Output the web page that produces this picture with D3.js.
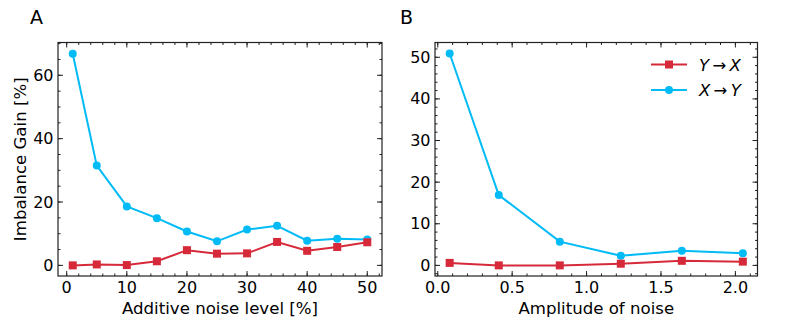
<!DOCTYPE html>
<html>
<head>
<meta charset="utf-8">
<script src="https://cdn.jsdelivr.net/npm/d3@7"></script>
<style>
body { margin: 0; background: #fff; }
text { font-family: "DejaVu Sans", sans-serif; fill: #000; }
</style>
</head>
<body>
<svg id="main" width="807" height="325"></svg>
<script>
// panel A data
const noiseLevel = [1, 5, 10, 15, 20, 25, 30, 35, 40, 45, 50];
const aXtoY = [66.8, 31.5, 18.6, 14.9, 10.7, 7.6, 11.3, 12.5, 7.8, 8.4, 8.2];
const aYtoX = [0, 0.3, 0.1, 1.3, 4.8, 3.7, 3.8, 7.4, 4.6, 5.8, 7.3];
// panel B data
const amplitude = [0.08, 0.41, 0.82, 1.23, 1.64, 2.05];
const bXtoY = [50.9, 16.9, 5.7, 2.3, 3.5, 2.9];
const bYtoX = [0.6, 0, 0, 0.4, 1.1, 0.9];

const red = "#d62a3a";
const blue = "#00bbf5";

function panel(svg, opt) {
    const g = svg.append('g');
    const x = d3.scaleLinear().domain(opt.xdom).range([opt.left, opt.right]);
    const y = d3.scaleLinear().domain(opt.ydom).range([opt.bottom, opt.top]);

    // ticks, inward on all sides
    const xt = d3.range(opt.xmaj[0], opt.xmaj[1] + 1e-9, opt.xmaj[2]);
    const yt = d3.range(opt.ymaj[0], opt.ymaj[1] + 1e-9, opt.ymaj[2]);
    const xm = d3.range(Math.ceil(opt.xdom[0] / opt.xmin) * opt.xmin, opt.xdom[1], opt.xmin)
        .filter(v => v >= opt.xdom[0] && v <= opt.xdom[1]);
    const ym = d3.range(Math.ceil(opt.ydom[0] / opt.ymin) * opt.ymin, opt.ydom[1], opt.ymin)
        .filter(v => v >= opt.ydom[0] && v <= opt.ydom[1]);

    const tk = (x1, y1, x2, y2) => g.append('line')
        .attr('x1', x1).attr('y1', y1).attr('x2', x2).attr('y2', y2)
        .attr('stroke', '#222').attr('stroke-width', 1);

    xm.forEach(v => { tk(x(v), opt.bottom, x(v), opt.bottom - 2.5); tk(x(v), opt.top, x(v), opt.top + 2.5); });
    ym.forEach(v => { tk(opt.left, y(v), opt.left + 2.5, y(v)); tk(opt.right, y(v), opt.right - 2.5, y(v)); });
    xt.forEach(v => { tk(x(v), opt.bottom, x(v), opt.bottom - 5); tk(x(v), opt.top, x(v), opt.top + 5); });
    yt.forEach(v => { tk(opt.left, y(v), opt.left + 5, y(v)); tk(opt.right, y(v), opt.right - 5, y(v)); });

    g.selectAll('.xl').data(xt).enter().append('text')
        .attr('x', d => x(d)).attr('y', opt.bottom + 17)
        .attr('text-anchor', 'middle').attr('font-size', 16)
        .text(d => opt.xfmt(d));
    g.selectAll('.yl').data(yt).enter().append('text')
        .attr('x', opt.left - 4.5).attr('y', d => y(d) + 5.5)
        .attr('text-anchor', 'end').attr('font-size', 16)
        .text(d => d);

    g.append('rect')
        .attr('x', opt.left).attr('y', opt.top)
        .attr('width', opt.right - opt.left).attr('height', opt.bottom - opt.top)
        .attr('fill', 'none').attr('stroke', '#222').attr('stroke-width', 1.2);

    g.append('text').attr('x', (opt.left + opt.right) / 2).attr('y', opt.bottom + 38)
        .attr('text-anchor', 'middle').attr('font-size', 16.6).text(opt.xlabel);
    if (opt.ylabel) {
        g.append('text')
            .attr('transform', `translate(26,${(opt.top + opt.bottom) / 2}) rotate(-90)`)
            .attr('text-anchor', 'middle').attr('font-size', 16.6).text(opt.ylabel);
    }
    g.append('text').attr('x', opt.tx).attr('y', 24).attr('font-size', 19).text(opt.title);

    const line = d3.line().x(d => x(d[0])).y(d => y(d[1]));
    const series = [
        { xs: opt.xs, ys: opt.blue, color: blue, mk: 'circle' },
        { xs: opt.xs, ys: opt.red, color: red, mk: 'square' }
    ];
    series.forEach(s => {
        const pts = s.xs.map((v, i) => [v, s.ys[i]]);
        g.append('path').attr('d', line(pts)).attr('fill', 'none')
            .attr('stroke', s.color).attr('stroke-width', 2);
        pts.forEach(p => {
            if (s.mk == 'circle') {
                g.append('circle').attr('cx', x(p[0])).attr('cy', y(p[1])).attr('r', 4)
                    .attr('fill', s.color);
            } else {
                g.append('rect').attr('x', x(p[0]) - 4).attr('y', y(p[1]) - 4)
                    .attr('width', 8).attr('height', 8).attr('fill', s.color);
            }
        });
    });
    return g;
}

const svg = d3.select("#main");

panel(svg, {
    left: 58, right: 382, top: 42.5, bottom: 276,
    xdom: [-1.45, 52.45], ydom: [-3.35, 70.35],
    xmaj: [0, 50, 10], ymaj: [0, 60, 20], xmin: 2, ymin: 5,
    xfmt: d => d, xlabel: "Additive noise level [%]", ylabel: "Imbalance Gain [%]",
    title: "A", tx: 30,
    xs: noiseLevel, blue: aXtoY, red: aYtoX
});

const pb = panel(svg, {
    left: 435, right: 757.5, top: 42.5, bottom: 276,
    xdom: [-0.0185, 2.1485], ydom: [-2.55, 53.55],
    xmaj: [0, 2, 0.5], ymaj: [0, 50, 10], xmin: 0.1, ymin: 2,
    xfmt: d => d.toFixed(1), xlabel: "Amplitude of noise", ylabel: null,
    title: "B", tx: 400,
    xs: amplitude, blue: bXtoY, red: bYtoX
});

// legend
const legend = [
    { a: "Y", b: "X", color: red, mk: 'square' },
    { a: "X", b: "Y", color: blue, mk: 'circle' }
];
legend.forEach((l, i) => {
    const ly = 64.5 + i * 25.5;
    pb.append('line').attr('x1', 651).attr('x2', 687).attr('y1', ly).attr('y2', ly)
        .attr('stroke', l.color).attr('stroke-width', 2);
    if (l.mk == 'square') {
        pb.append('rect').attr('x', 665).attr('y', ly - 4).attr('width', 8).attr('height', 8).attr('fill', l.color);
    } else {
        pb.append('circle').attr('cx', 669).attr('cy', ly).attr('r', 4).attr('fill', l.color);
    }
    const t = pb.append('text').attr('x', 699).attr('y', ly + 6).attr('font-size', 16.5);
    t.append('tspan').attr('font-style', 'italic').text(l.a);
    t.append('tspan').text("\u2009\u2192\u2009");
    t.append('tspan').attr('font-style', 'italic').text(l.b);
});
</script>
</body>
</html>
